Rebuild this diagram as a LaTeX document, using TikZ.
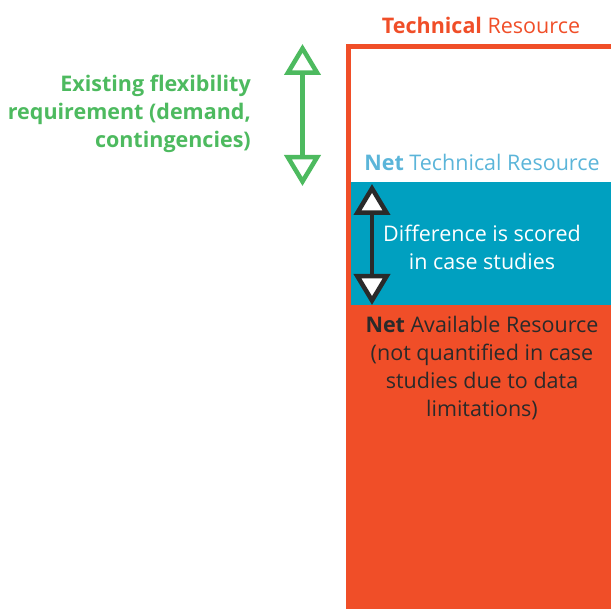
\documentclass[tikz,border=0pt]{standalone}
\usepackage{fontspec}
\setmainfont{Open Sans}
\usetikzlibrary{arrows.meta}
\definecolor{resred}{HTML}{F04E28}
\definecolor{resblue}{HTML}{00A0C0}
\definecolor{reslight}{HTML}{5BB5D9}
\definecolor{resgreen}{HTML}{4DBA5F}
\definecolor{resink}{HTML}{2A2A2A}

\begin{document}
\begin{tikzpicture}[
        x=1pt,y=1pt,
        span/.style={{Triangle[length=31pt,width=36pt,fill=white]}-{Triangle[length=31pt,width=36pt,fill=white]},line width=4.5pt},
        label/.style={align=center,inner sep=0pt,
          font=\fontsize{21.5}{28}\selectfont}
      ]
        \useasboundingbox (0,0) rectangle (611,609);

        % resource column
        \fill[resred] (346,0) rectangle (611,304);
        \fill[resblue] (351,304) rectangle (611,427);
        \draw[resred,line width=5pt] (348.5,0) |- (615,562.5);

        \node[label,text=resred] (tech) at (481,584)
          {\textbf{Technical} Resource};
        \node[label,text=reslight] (nettech) at (482,447)
          {\textbf{Net} Technical Resource};
        \node[label,text=white] (diff) at (482,362)
          {Difference is scored\\in case studies};
        \node[label,text=resink] (netavail) at (482,241)
          {\textbf{Net} Available Resource\\(not quantified in case\\studies due to data\\limitations)};
        \node[label,text=resgreen,align=right,anchor=east,font=\fontsize{21.5}{28}\selectfont\bfseries]
          (flex) at (251,495) {Existing flexibility\\requirement (demand,\\contingencies)};

        % arrows
        \coordinate (flextop) at (302.5,565);
        \coordinate (flexbot) at (302.5,423);
        \coordinate (difftop) at (372,425);
        \coordinate (diffbot) at (372,304);
        \draw[span,draw=resgreen] (flextop) -- (flexbot);
        \draw[span,draw=resink] (difftop) -- (diffbot);
      \end{tikzpicture}
\end{document}
